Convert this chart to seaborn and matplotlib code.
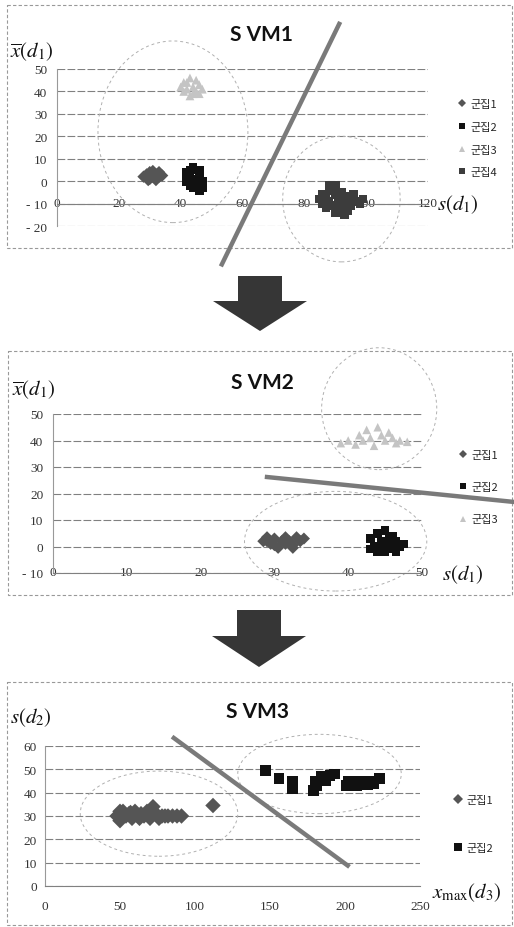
import matplotlib
matplotlib.use('Agg')
import matplotlib.pyplot as plt
import numpy as np
import pandas as pd
import seaborn as sns
from matplotlib.patches import Ellipse, FancyArrow, Rectangle

sns.set_style('white')
plt.rcParams['font.family'] = ['Liberation Serif', 'Noto Sans CJK KR', 'DejaVu Sans']
plt.rcParams['mathtext.fontset'] = 'stix'

W, H = 514, 928

# ---------------- data ----------------
labels = ['군집1', '군집2', '군집3', '군집4']

# SVM1
p1_c1_x = [28, 29, 30, 30, 31, 32, 32, 33, 34, 31, 29.5, 33]
p1_c1_y = [2, 3, 1, 4, 2, 3, 0.5, 2, 2.5, 4.5, 0.5, 4]
p1_c2_x = [42, 43, 44, 45, 43, 44, 45, 46, 47, 43, 44, 45, 46, 42, 47, 46]
p1_c2_y = [4, 5, 6, 5, 2, 1, 0, 2, 0, -2, -3, -2, -4, 0, -3, 5]
p1_c3_x = [40, 41, 42, 43, 43, 44, 45, 45, 46, 47, 42, 44, 41, 46]
p1_c3_y = [42, 40, 44, 46, 38, 42, 40, 45, 43, 41, 41, 39, 44, 39]
p1_c4_x = [85, 86, 86, 87, 88, 88, 89, 90, 90, 91, 91, 92, 93, 93, 94, 95, 96, 97, 98, 99, 89, 92,
           87, 90, 94, 96, 88, 92]
p1_c4_y = [-8, -6, -10, -7, -9, -4, -11, -6, -2, -9, -13, -5, -10, -15, -7, -11, -8, -9, -10, -8, -3, -12,
           -12, -14, -13, -6, -2, -8]
svm1_x = [91.6, 53.0]
svm1_y = [71.0, -38.0]
p1_ell = [(37.5, 22, 48.5, 81), (92, -8, 38, 56)]

# SVM2
p2_c1_x = [28.5, 29, 29.5, 30, 30.5, 31, 31.5, 32, 32.5, 33, 33.5, 34, 30, 32.5, 29, 31.5]
p2_c1_y = [2, 3.5, 1, 3, -0.5, 2, 3.5, 2, 0.5, 3.5, 2, 3, 0.5, -0.5, 2, 1]
p2_c2_x = [43, 43.5, 44, 44.5, 45, 45, 45.5, 46, 46, 46.5, 47, 47.5, 44, 43, 45.5, 44.5, 46.5]
p2_c2_y = [3, 0, 5, 2, 6, -2, 1, 4, -1, 2, 0, 1, -2, -1, 4, -1, -2]
p2_c3_x = [39, 40, 41, 41.5, 42, 42.5, 43, 43.5, 44, 44.5, 45, 45.5, 46, 46.5, 47, 48]
p2_c3_y = [39, 40, 38.5, 42, 40, 44, 41, 38, 45, 42, 40, 43, 41, 39, 40, 39.5]
svm2_x = [28.7, 62.5]
svm2_y = [26.3, 16.8]
p2_ell = [(44.2, 52, 15.6, 46), (38.3, 2, 24.7, 37.6)]

# SVM3
p3_c1_x = [48, 50, 52, 54, 56, 58, 60, 62, 64, 66, 68, 70, 72, 74, 76, 78, 80, 82, 85, 88, 91, 112,
           50, 57, 63, 71]
p3_c1_y = [30, 28, 32, 30, 31, 29, 32, 30, 31, 30, 32, 29, 34, 31, 29, 30, 30, 30, 30, 30, 30, 34.5,
           32, 31.5, 29, 31.5]
p3_c2_x = [146.7, 156, 165, 164.7, 164.7, 180, 178.7, 190, 186.7, 181, 202, 205, 211, 216.7, 223, 201,
           208, 214.7, 193, 184, 219]
p3_c2_y = [49.4, 46, 44.6, 41.6, 43, 45, 40.8, 47.2, 45, 43, 45, 44.6, 44.6, 44.6, 46, 43,
           43, 43.3, 48, 47, 44]
svm3_x = [84.7, 203.0]
svm3_y = [64.0, 8.2]
p3_ell = [(76, 31, 105, 36.5), (183, 48, 109, 34)]

p1_xticks = [0, 20, 40, 60, 80, 100, 120]
p1_yticks = [-20, -10, 0, 10, 20, 30, 40, 50]
p2_xticks = [0, 10, 20, 30, 40, 50]
p2_yticks = [-10, 0, 10, 20, 30, 40, 50]
p3_xticks = [0, 50, 100, 150, 200, 250]
p3_yticks = [0, 10, 20, 30, 40, 50, 60]

colors = {'군집1': '#555555', '군집2': '#111111', '군집3': '#c4c4c4', '군집4': '#3c3c3c'}
marks = {'군집1': 'D', '군집2': 's', '군집3': '^', '군집4': 's'}


def frame(groups):
    rows = []
    for lab, (xs, ys) in groups:
        for x, y in zip(xs, ys):
            rows.append({'x': x, 'y': y, 'cluster': lab})
    return pd.DataFrame(rows)


def rect(l, t, r, b):
    return [l / W, 1 - b / H, (r - l) / W, (b - t) / H]


fig = plt.figure(figsize=(W / 100, H / 100), dpi=100)

# decoration overlay
deco = fig.add_axes([0, 0, 1, 1], zorder=0)
deco.set_xlim(0, W)
deco.set_ylim(H, 0)
deco.axis('off')
for (l, t, r, b) in [(7, 6, 512, 249), (8, 352, 512, 596), (7, 683, 512, 926)]:
    deco.add_patch(Rectangle((l, t), r - l, b - t, fill=False, ec='#999999', lw=0.8, ls=(0, (3, 2))))
for (cx, top, base, tip) in [(260, 277, 302, 332), (259, 611, 637, 668)]:
    deco.add_patch(FancyArrow(cx, top, 0, tip - top, width=44, head_width=94, head_length=tip - base,
                              length_includes_head=True, color='#363636', lw=0))


def panel(ax, df, levels, xlim, ylim, xticks, yticks, xpad, s, ells, lx, ly, leg_xy, spacing):
    sub = {k: colors[k] for k in levels}
    mk = {k: marks[k] for k in levels}
    sns.scatterplot(data=df, x='x', y='y', hue='cluster', style='cluster', hue_order=levels,
                    style_order=levels, palette=sub, markers=mk, s=s, linewidth=0, ax=ax, zorder=3)
    for (cx, cy, w, h) in ells:
        ax.add_patch(Ellipse((cx, cy), w, h, fill=False, ec='#b0b0b0', lw=0.7, ls=(0, (3, 3)),
                             clip_on=False, zorder=2))
    ax.plot(lx, ly, color='#7a7a7a', lw=3.2, solid_capstyle='butt', clip_on=False, zorder=4)
    ax.set_xlim(*xlim)
    ax.set_ylim(*ylim)
    ax.set_xticks(xticks)
    ax.set_yticks(yticks)
    ax.set_xticklabels([str(v) for v in xticks])
    ax.set_yticklabels([str(v).replace('-', '- ') for v in yticks])
    ax.set_xlabel('')
    ax.set_ylabel('')
    ax.yaxis.grid(True, color='#808080', lw=0.8, ls=(0, (7, 2)))
    ax.xaxis.grid(False)
    for sp in ['top', 'right']:
        ax.spines[sp].set_visible(False)
    ax.spines['left'].set_color('#999999')
    ax.spines['left'].set_linewidth(0.8)
    ax.spines['bottom'].set_color('#808080')
    ax.spines['bottom'].set_linewidth(0.8)
    ax.tick_params(axis='both', length=0, labelsize=9.5, colors='#333333')
    for t in ax.get_xticklabels() + ax.get_yticklabels():
        t.set_fontfamily('Liberation Serif')
    ax.tick_params(axis='y', pad=7)
    ax.tick_params(axis='x', pad=xpad)
    ax.set_facecolor('none')
    h, l = ax.get_legend_handles_labels()
    ax.legend(h, l, loc='upper left', bbox_to_anchor=(leg_xy[0] / W, 1 - leg_xy[1] / H),
              bbox_transform=fig.transFigure, frameon=False, prop={'family': 'Noto Sans CJK KR', 'size': 8},
              labelspacing=spacing, handletextpad=0.3, handlelength=1.0, borderpad=0, borderaxespad=0,
              markerscale=0.7)


title_kw = dict(family='Lato', weight='bold', fontsize=15, ha='center', va='center', color='#111111')
math_kw = dict(fontsize=15, va='center', color='#111111')

# ---- panel 1
ax1 = fig.add_axes(rect(57, 70, 428, 227), zorder=1)
df1 = frame([('군집1', (p1_c1_x, p1_c1_y)), ('군집2', (p1_c2_x, p1_c2_y)),
             ('군집3', (p1_c3_x, p1_c3_y)), ('군집4', (p1_c4_x, p1_c4_y))])
panel(ax1, df1, labels, (0, 120), (-20, 50), p1_xticks, p1_yticks, -5, 40, p1_ell, svm1_x, svm1_y,
      (456, 100), 1.15)
ax1.spines['bottom'].set_position(('data', -10))
fig.text(261 / W, 1 - 35 / H, 'S VM1', **title_kw)
fig.text(10 / W, 1 - 52 / H, r'$\overline{x}(d_1)$', ha='left', **math_kw)
fig.text(437 / W, 1 - 205 / H, r'$s(d_1)$', ha='left', **math_kw)

# ---- panel 2
ax2 = fig.add_axes(rect(53, 415, 422, 574), zorder=1)
df2 = frame([('군집1', (p2_c1_x, p2_c1_y)), ('군집2', (p2_c2_x, p2_c2_y)),
             ('군집3', (p2_c3_x, p2_c3_y))])
panel(ax2, df2, labels[:3], (0, 50), (-10, 50), p2_xticks, p2_yticks, -5, 38, p2_ell, svm2_x, svm2_y,
      (457, 451), 2.0)
fig.text(262 / W, 1 - 383 / H, 'S VM2', **title_kw)
fig.text(12 / W, 1 - 390 / H, r'$\overline{x}(d_1)$', ha='left', **math_kw)
fig.text(442 / W, 1 - 575 / H, r'$s(d_1)$', ha='left', **math_kw)

# ---- panel 3
ax3 = fig.add_axes(rect(45, 747, 420, 887), zorder=1)
df3 = frame([('군집1', (p3_c1_x, p3_c1_y)), ('군집2', (p3_c2_x, p3_c2_y))])
panel(ax3, df3, labels[:2], (0, 250), (0, 60), p3_xticks, p3_yticks, 10, 62, p3_ell, svm3_x, svm3_y,
      (452, 796), 3.4)
ax3.tick_params(axis='y', pad=6)
fig.text(258 / W, 1 - 712 / H, 'S VM3', **title_kw)
fig.text(10 / W, 1 - 718 / H, r'$s(d_2)$', ha='left', **math_kw)
fig.text(432 / W, 1 - 893 / H, r'$x_{\mathrm{max}}(d_3)$', ha='left', **math_kw)

fig.savefig('out.png', dpi=100)
